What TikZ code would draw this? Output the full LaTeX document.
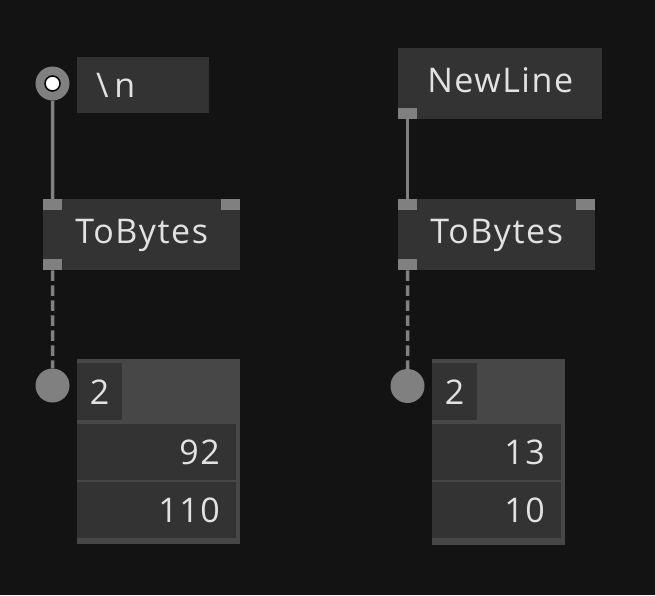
\documentclass[tikz,border=0pt]{standalone}
\usepackage{fontspec}
\setmainfont{Open Sans}[LetterSpace=4.5]
\usetikzlibrary{positioning}
\definecolor{canvas}{HTML}{131313}
\definecolor{boxgray}{HTML}{333333}
\definecolor{panelgray}{HTML}{474747}
\definecolor{pingray}{HTML}{808080}
\definecolor{labelgray}{HTML}{E2E2E2}
\tikzset{
      opbox/.style    = {rectangle, fill=boxgray, text=labelgray, inner sep=0pt, anchor=north west, font=\fontsize{34}{40}\selectfont},
      titlebox/.style = {opbox, text height=24pt, text depth=6pt},
      pinbox/.style   = {rectangle, fill=pingray, inner sep=0pt, minimum width=19pt, minimum height=11pt},
      portdot/.style  = {circle, fill=pingray, inner sep=0pt, minimum size=34pt},
      wire/.style     = {draw=pingray, line width=3.5pt},
      dashwire/.style = {wire, dash pattern=on 10.5pt off 4.5pt},
      panelbox/.style = {rectangle, fill=panelgray, inner sep=0pt, anchor=north west},
      rowbox/.style   = {opbox, align=right, inner xsep=16.5pt, minimum height=56pt},
    }

\begin{document}
\begin{tikzpicture}[x=1pt,y=-1pt]
          \fill[canvas] (0,0) rectangle (655,595);
          \useasboundingbox (0,0) rectangle (655,595);

          % left chain
          \node [portdot] (in1) at (52.5,83.5) {};
          \node [circle, fill=white, draw=black, line width=1.5pt, inner sep=0pt, minimum size=15pt] (in1dot) at (in1) {};
          \node [opbox, minimum height=56pt, text width=94pt, inner xsep=19pt, align=left] (esc) at (77,57) {\textbackslash\,n};
          \node [titlebox, minimum width=197pt, minimum height=71pt] (tob1) at (43,199) {ToBytes};
          \node [pinbox, anchor=north west] (tob1in) at (tob1.north west) {};
          \node [pinbox, anchor=north east] (tob1aux) at (tob1.north east) {};
          \node [pinbox, anchor=south west] (tob1out) at (tob1.south west) {};
          \node [portdot] (out1port) at (52.5,385.5) {};
          \node [panelbox, minimum width=163pt, minimum height=185pt] (out1) at (77,359) {};
          \node [opbox, minimum width=45pt, minimum height=57pt] (cnt1) at (77,363) {2};
          \node [rowbox, text width=126pt] (row1a) at (77,424) {92};
          \node [rowbox, text width=126pt] (row1b) at (77,482) {110};

          % right chain
          \node [titlebox, minimum width=204pt, minimum height=71pt] (nl) at (398,48) {NewLine};
          \node [pinbox, anchor=south west] (nlout) at (nl.south west) {};
          \node [titlebox, minimum width=197pt, minimum height=71pt] (tob2) at (398,199) {ToBytes};
          \node [pinbox, anchor=north west] (tob2in) at (tob2.north west) {};
          \node [pinbox, anchor=north east] (tob2aux) at (tob2.north east) {};
          \node [pinbox, anchor=south west] (tob2out) at (tob2.south west) {};
          \node [portdot] (out2port) at (407.5,386) {};
          \node [panelbox, minimum width=133pt, minimum height=186pt] (out2) at (432,359) {};
          \node [opbox, minimum width=45pt, minimum height=57pt] (cnt2) at (432,363) {2};
          \node [rowbox, text width=96pt] (row2a) at (432,424) {13};
          \node [rowbox, text width=96pt] (row2b) at (432,482) {10};

          \path (in1) edge[wire] (tob1in);
          \path (tob1out) edge[dashwire] (out1port);
          \path (nlout) edge[wire] (tob2in);
          \path (tob2out) edge[dashwire] (out2port);
\end{tikzpicture}
\end{document}
